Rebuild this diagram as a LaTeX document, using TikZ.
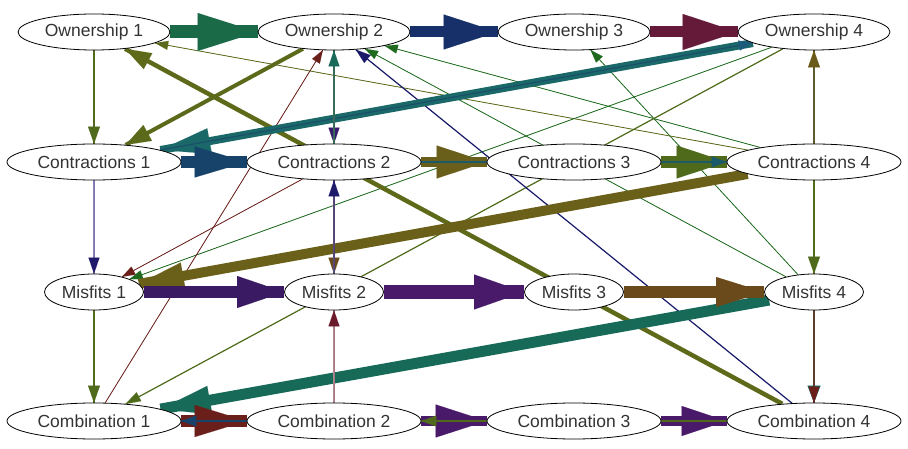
\documentclass[tikz,border=0pt]{standalone}
\usepackage{fontspec}
\setmainfont{Liberation Sans}
\usetikzlibrary{shapes.geometric,arrows.meta}
\pgfdeclarelayer{bg}
\pgfsetlayers{bg,main}
\definecolor{txt}{HTML}{333333}
\definecolor{cA}{HTML}{1A6A48}
\definecolor{cB}{HTML}{17306A}
\definecolor{cC}{HTML}{661A3A}
\definecolor{cD}{HTML}{17436A}
\definecolor{cE}{HTML}{6A5F1A}
\definecolor{cF}{HTML}{4E6A1A}
\definecolor{cG}{HTML}{3A1A62}
\definecolor{cH}{HTML}{4A1A6A}
\definecolor{cI}{HTML}{6A4A1A}
\definecolor{cJ}{HTML}{6A1F1A}
\definecolor{tealA}{HTML}{1A6868}
\definecolor{tealB}{HTML}{186A58}
\definecolor{olvA}{HTML}{6A601A}
\definecolor{olvB}{HTML}{5E6A1A}
\definecolor{olvC}{HTML}{5A6A1A}
\definecolor{grn}{HTML}{1F6A1F}
\definecolor{olg}{HTML}{4E6A1A}
\definecolor{navy}{HTML}{1A1A6A}
\definecolor{navyB}{HTML}{201A6A}
\definecolor{lav}{HTML}{8A84B8}
\definecolor{tgline}{HTML}{3A6A5A}
\definecolor{tghead}{HTML}{1A6A5A}
\definecolor{purp}{HTML}{3A1A6A}
\definecolor{pline}{HTML}{5A4A7A}
\definecolor{pink}{HTML}{B08890}
\definecolor{redh}{HTML}{6A1A2A}
\definecolor{oline}{HTML}{5E5A30}
\definecolor{ohead}{HTML}{6A5A1A}
\definecolor{bline}{HTML}{5A4030}
\definecolor{tealC}{HTML}{1A6A6A}
\definecolor{tealD}{HTML}{1A5A6A}
\definecolor{blueA}{HTML}{1A4A6A}
\definecolor{blueB}{HTML}{1A5A7A}
% line colour, head colour, line width, head length, head width, from, to
\newcommand{\edg}[7]{%
  \draw[draw=#1, line width=#3] (#6) -- (#7);
  \draw[draw=#2, line width=0.01pt, -{Triangle[length=#4, width=#5, fill=#2]}] (#6) -- (#7);
}
\tikzset{
  st/.style={ellipse, draw=black, line width=0.8pt, fill=white, inner sep=0pt,
    minimum height=36pt, text=txt, font=\fontsize{17.5pt}{21pt}\selectfont},
  own/.style={st, minimum width=152pt},
  con/.style={st, minimum width=174pt},
  mis/.style={st, minimum width=99pt}
}
\begin{document}
\begin{tikzpicture}[x=1pt, y=-1pt]
\useasboundingbox (0,0) rectangle (908,449);
\node[own] (O1) at (94,32) {Ownership 1};
\node[own] (O2) at (334,32) {Ownership 2};
\node[own] (O3) at (574,32) {Ownership 3};
\node[own] (O4) at (814,32) {Ownership 4};
\node[con] (C1) at (94,162) {Contractions 1};
\node[con] (C2) at (334,162) {Contractions 2};
\node[con] (C3) at (574,162) {Contractions 3};
\node[con] (C4) at (814,162) {Contractions 4};
\node[mis] (M1) at (94,292) {Misfits 1};
\node[mis] (M2) at (334,292) {Misfits 2};
\node[mis] (M3) at (574,292) {Misfits 3};
\node[mis] (M4) at (814,292) {Misfits 4};
\node[con] (B1) at (94,421) {Combination 1};
\node[con] (B2) at (334,421) {Combination 2};
\node[con] (B3) at (574,421) {Combination 3};
\node[con] (B4) at (814,421) {Combination 4};
\begin{pgfonlayer}{bg}
% thin diagonals
\edg{grn}{grn}{0.8pt}{13pt}{9pt}{M4}{O3}
\edg{grn}{grn}{0.8pt}{13pt}{9pt}{M4}{O2}
\edg{grn}{grn}{0.8pt}{13pt}{9pt}{C4}{O2}
\edg{olvC}{olvC}{0.8pt}{13pt}{9pt}{C4}{O1}
\edg{grn}{grn}{0.8pt}{13pt}{9pt}{O4}{M1}
\edg{olg}{olg}{1.2pt}{15pt}{10pt}{O4}{B1}
\edg{cJ}{cJ}{0.8pt}{13pt}{9pt}{C2}{M1}
\edg{cJ}{cJ}{0.8pt}{13pt}{9pt}{B1}{O2}
\edg{navy}{navy}{1.2pt}{15pt}{10pt}{B4}{O2}
% thick diagonals
\edg{olvB}{olvB}{4.5pt}{26pt}{18pt}{B4}{O1}
\edg{olvC}{olvC}{4pt}{25pt}{18pt}{O2}{C1}
\edg{tealA}{tealA}{8pt}{50pt}{26pt}{O4}{C1}
\edg{blueA}{blueB}{1pt}{14pt}{10pt}{C1}{O4}
\edg{olvA}{olvA}{10pt}{45pt}{27pt}{C4}{M1}
\edg{tealB}{tealB}{11pt}{50pt}{29pt}{M4}{B1}
% vertical
\edg{olg}{olg}{1.5pt}{17pt}{12pt}{O1}{C1}
\edg{lav}{navyB}{1.2pt}{16pt}{11pt}{C1}{M1}
\edg{olg}{olg}{1.5pt}{17pt}{12pt}{M1}{B1}
\edg{tgline}{purp}{1.5pt}{16pt}{11pt}{O2}{C2}
\edg{tgline}{tghead}{1.5pt}{16pt}{11pt}{C2}{O2}
\edg{pline}{cI}{1.5pt}{16pt}{11pt}{C2}{M2}
\edg{pline}{navyB}{1.5pt}{16pt}{11pt}{M2}{C2}
\edg{pink}{redh}{1.2pt}{16pt}{11pt}{B2}{M2}
\edg{oline}{ohead}{1.5pt}{17pt}{12pt}{C4}{O4}
\edg{olg}{olg}{1.5pt}{17pt}{12pt}{C4}{M4}
\edg{bline}{tealC}{1.5pt}{17pt}{13pt}{M4}{B4}
\edg{bline}{cJ}{1.5pt}{16pt}{11pt}{M4}{B4}
% horizontal thick
\edg{cA}{cA}{13pt}{60pt}{38pt}{O1}{O2}
\edg{cB}{cB}{11pt}{54pt}{35pt}{O2}{O3}
\edg{cC}{cC}{11pt}{55pt}{36pt}{O3}{O4}
\edg{cD}{cD}{12pt}{52pt}{31pt}{C1}{C2}
\edg{cE}{cE}{10pt}{50pt}{33pt}{C2}{C3}
\edg{cF}{cF}{12pt}{50pt}{33pt}{C3}{C4}
\edg{cG}{cG}{12pt}{47pt}{32pt}{M1}{M2}
\edg{cH}{cH}{13pt}{50pt}{35pt}{M2}{M3}
\edg{cI}{cI}{12pt}{48pt}{30pt}{M3}{M4}
\edg{cJ}{cJ}{12pt}{52pt}{32pt}{B1}{B2}
\edg{cH}{cH}{10pt}{51pt}{33pt}{B2}{B3}
\edg{cH}{cH}{10pt}{45pt}{30pt}{B3}{B4}
% horizontal thin
\edg{tealD}{tealD}{1.2pt}{15pt}{11pt}{C2}{C4}
\edg{cD}{cD}{1.2pt}{15pt}{11pt}{B4}{B1}
\edg{olg}{olg}{1.2pt}{15pt}{11pt}{B4}{B2}
\end{pgfonlayer}
\end{tikzpicture}
\end{document}
